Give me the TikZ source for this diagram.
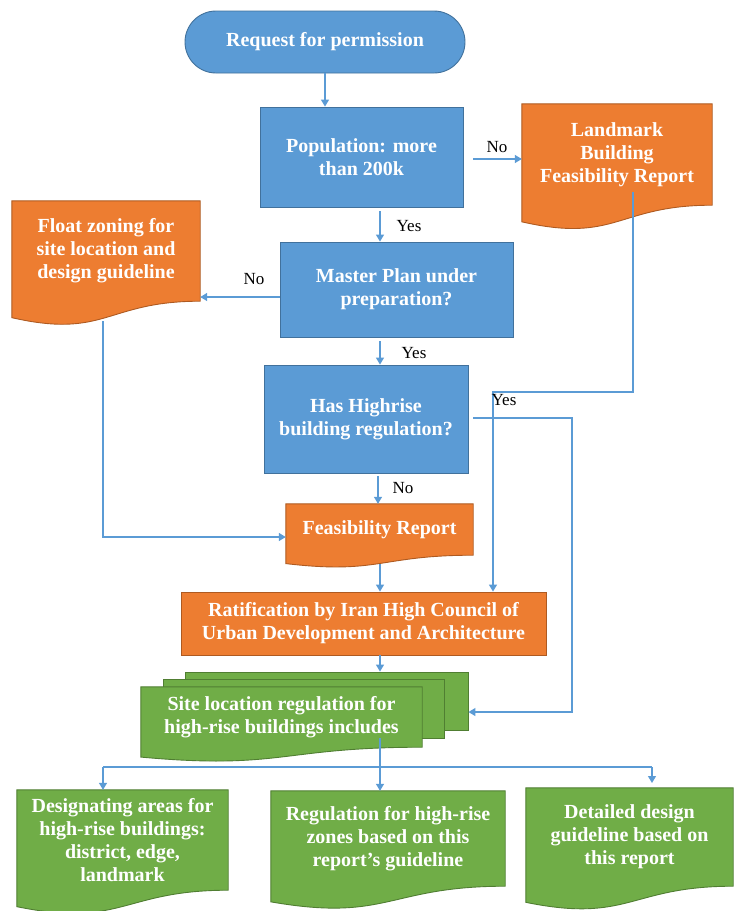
\documentclass[tikz,border=0pt]{standalone}
\usepackage{fontspec}
\setmainfont{Liberation Serif}
\usetikzlibrary{arrows.meta,calc,backgrounds}
\definecolor{bfill}{HTML}{5B9BD5}
\definecolor{bdraw}{HTML}{41719C}
\definecolor{ofill}{HTML}{ED7D31}
\definecolor{odraw}{HTML}{AE5A21}
\definecolor{gfill}{HTML}{70AD47}
\definecolor{gdraw}{HTML}{507E32}
\definecolor{conn}{HTML}{5B9BD5}
% document shape background: node name, fill, draw, node height
\newcommand\docbg[4]{%
  \begin{pgfonlayer}{background}
    \path[fill=#2,draw=#3,line width=0.9pt]
      (#1.north west) -- (#1.north east) -- (#1.south east)
      .. controls (#1.south) and ($(#1.south)+(0,#4*0.380)$) ..
      ($(#1.south west)+(0,#4*0.1646)$) -- cycle;
  \end{pgfonlayer}}
\begin{document}
\begin{tikzpicture}[x=1pt,y=-1pt,
  boxtext/.style={text=white,font=\fontsize{20}{23}\selectfont\bfseries,align=center,inner sep=0pt},
  bluebox/.style={boxtext,rectangle,draw=bdraw,fill=bfill,line width=0.9pt},
  orangebox/.style={boxtext,rectangle,draw=odraw,fill=ofill,line width=0.9pt},
  greenrect/.style={rectangle,draw=gdraw,fill=gfill,line width=0.9pt,inner sep=0pt},
  docnode/.style={boxtext,rectangle},
  lab/.style={font=\fontsize{17}{20}\selectfont,inner sep=0pt,text=black},
  link/.style={draw=conn,line width=1.3pt},
  arr/.style={link,-{Triangle[length=7pt,width=8pt]}}
]
\useasboundingbox (0,0) rectangle (736,911);

% blue process boxes
\node[bluebox, rounded corners=31pt, minimum width=280pt, minimum height=62pt] (req) at (325,42) {Request for permission};
\node[bluebox, minimum width=203pt, minimum height=100pt] (pop) at (361.5,157) {Population: more\\than 200k};
\node[bluebox, minimum width=233pt, minimum height=95pt] (mp) at (396.5,289.5) {Master Plan under\\preparation?};
\node[bluebox, minimum width=204pt, minimum height=108pt] (hh) at (366,419) {Has Highrise\\building regulation?};

% orange documents
\node[docnode, minimum width=190pt, minimum height=101pt] (lm) at (617,154.5) {Landmark\\Building\\Feasibility Report};
\docbg{lm}{ofill}{odraw}{101}
\node[docnode, minimum width=188pt, minimum height=100pt] (fz) at (106,251) {Float zoning for\\site location and\\design guideline};
\docbg{fz}{ofill}{odraw}{100}
\node[docnode, minimum width=187pt, minimum height=51pt] (fr) at (379.5,529.5) {Feasibility Report};
\docbg{fr}{ofill}{odraw}{51}
\node[orangebox, minimum width=365pt, minimum height=63pt] (rat) at (363.5,623.5) {Ratification by Iran High Council of\\Urban Development and Architecture};

% multi-document
\begin{pgfonlayer}{background}
\node[greenrect, minimum width=283pt, minimum height=58pt] (sb2) at (326.5,701) {};
\node[greenrect, minimum width=281pt, minimum height=59pt] (sb1) at (303.5,708.5) {};
\end{pgfonlayer}
\node[docnode, minimum width=281pt, minimum height=60pt] (site) at (281.5,717) {Site location regulation for\\high-rise buildings includes};
\docbg{site}{gfill}{gdraw}{60}

% bottom green documents
\node[docnode, minimum width=211pt, minimum height=100pt] (d1) at (122.5,840) {Designating areas for\\high-rise buildings:\\district, edge,\\landmark};
\docbg{d1}{gfill}{gdraw}{100}
\node[docnode, minimum width=234pt, minimum height=95pt] (d2) at (388,838.5) {Regulation for high-rise\\zones based on this\\report’s guideline};
\docbg{d2}{gfill}{gdraw}{95}
\node[docnode, minimum width=207pt, minimum height=98pt] (d3) at (629.5,837) {Detailed design\\guideline based on\\this report};
\docbg{d3}{gfill}{gdraw}{98}

% helper coordinates
\coordinate (c1) at (473,159);
\coordinate (c2) at (380,211);
\coordinate (c3) at (280,297);
\coordinate (c4) at (380,341);
\coordinate (c5) at (378,476);
\coordinate (c6) at (103,321);
\coordinate (c7) at (0,537);
\coordinate (c8) at (633,192);
\coordinate (c9) at (493,392);
\coordinate (c10s) at (473,418);
\coordinate (c10) at (572,418);
\coordinate (c11) at (572,712);
\coordinate (c12) at (380,564);
\coordinate (c13) at (380,738);
\coordinate (c14) at (380,767);
\coordinate (c15) at (103,767);
\coordinate (c16) at (652,767);
\coordinate (c17) at (652,783);

% connectors
\draw[arr] (req.south) -- (req.south |- pop.north);
\draw[arr] (c1) -- (c1 -| lm.west);
\node[lab] at (497,147) {No};
\draw[arr] (c2) -- (c2 |- mp.north);
\node[lab] at (409,226) {Yes};
\draw[arr] (c3 -| mp.west) -- (c3 -| fz.east);
\node[lab] at (254,279) {No};
\draw[arr] (c4) -- (c4 |- hh.north);
\node[lab] at (414,353) {Yes};
\draw[arr] (c5) -- (c5 |- fr.north);
\node[lab] at (403,488) {No};
\draw[arr] (c6) |- (c7 -| fr.west);
\draw[arr] (c8) |- (c9) -- (c9 |- rat.north);
\node[lab] at (504,400) {Yes};
\draw[arr] (c10s) -- (c10) -- (c11) -- (c11 -| sb2.east);
\draw[arr] (c12) -- (c12 |- rat.north);
\draw[arr] (rat.south -| c12) -- (c12 |- sb2.north);
\draw[link] (c13) -- (c14);
\draw[link] (c15) -- (c16);
\draw[arr] (c15) -- (c15 |- d1.north);
\draw[arr] (c14) -- (c14 |- d2.north);
\draw[arr] (c16) -- (c17);
\end{tikzpicture}
\end{document}
